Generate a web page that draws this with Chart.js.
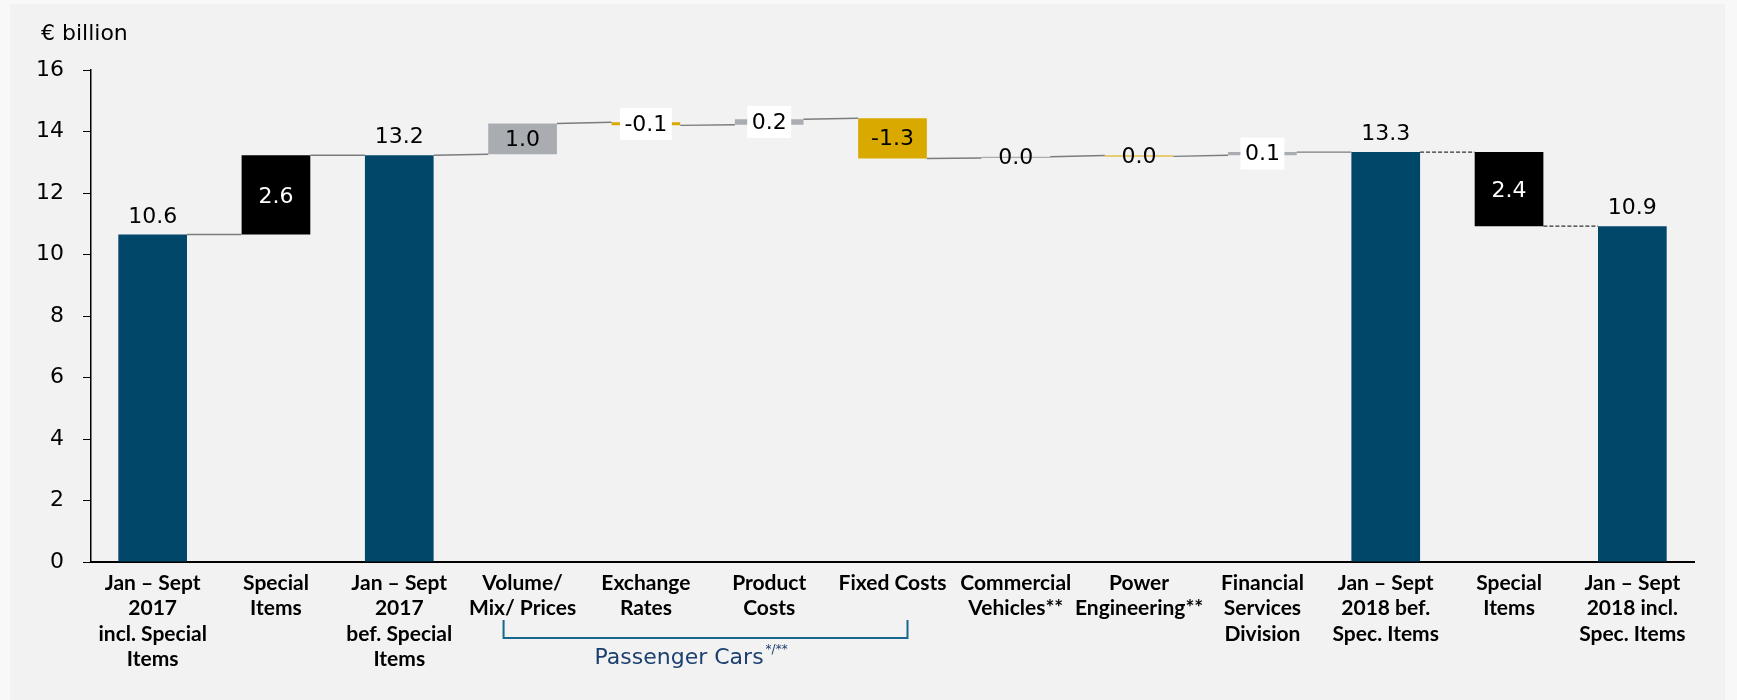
<!DOCTYPE html>
<html><head><meta charset="utf-8">
<script src="https://cdn.jsdelivr.net/npm/chart.js@4"></script>
<style>
html,body{margin:0;padding:0;background:#f8f8f8;width:1737px;height:700px;overflow:hidden}
#panel{position:absolute;left:10px;top:4px;width:1715px;height:696px;background:#f2f2f2}
#wrap{position:absolute;left:0;top:0;width:1737px;height:700px}
</style></head><body>
<div id="panel"></div>
<div id="wrap"><canvas id="c" width="1737" height="700"></canvas></div>
<script>
// ---- data ----
const categories = [
  ['Jan – Sept', '2017', 'incl. Special', 'Items'],
  ['Special', 'Items'],
  ['Jan – Sept', '2017', 'bef. Special', 'Items'],
  ['Volume/', 'Mix/ Prices'],
  ['Exchange', 'Rates'],
  ['Product', 'Costs'],
  ['Fixed Costs'],
  ['Commercial', 'Vehicles**'],
  ['Power', 'Engineering**'],
  ['Financial', 'Services', 'Division'],
  ['Jan – Sept', '2018 bef.', 'Spec. Items'],
  ['Special', 'Items'],
  ['Jan – Sept', '2018 incl.', 'Spec. Items']
];
const barKind = ['total', 'special', 'total', 'delta', 'delta', 'delta', 'delta', 'delta', 'delta', 'delta', 'total', 'special', 'total'];
const barStart = [0, 10.65, 0, 13.26, 14.30, 14.22, 14.43, 13.14, 13.22, 13.23, 0, 13.33, 0];
const barEnd   = [10.65, 13.23, 13.23, 14.26, 14.20, 14.40, 13.12, 13.18, 13.19, 13.33, 13.33, 10.92, 10.92];
const valueLabels = ['10.6', '2.6', '13.2', '1.0', '-0.1', '0.2', '-1.3', '0.0', '0.0', '0.1', '13.3', '2.4', '10.9'];
const dashedConnector = [false, false, false, false, false, false, false, false, false, false, true, true];
const yTickValues = [0, 2, 4, 6, 8, 10, 12, 14, 16];
const unitLabel = '€ billion';
const groupLabel = 'Passenger Cars';
const groupSup = '*/**';
const groupFirst = 3, groupLast = 6;

// ---- styles ----
const COL = {total: '#00476a', special: '#000000', up: '#a9adb2', down: '#d9a900'};
function barColor(i) {
  if (barKind[i] === 'total') return COL.total;
  if (barKind[i] === 'special') return COL.special;
  return barEnd[i] >= barStart[i] ? COL.up : COL.down;
}
const REG = '"DejaVu Sans", sans-serif';

const decor = {
  id: 'decor',
  afterDatasetsDraw(chart) {
    const ctx = chart.ctx;
    const ys = chart.scales.y, xs = chart.scales.x;
    const bars = chart.getDatasetMeta(0).data;
    ctx.save();
    // connectors
    for (let i = 0; i < bars.length - 1; i++) {
      const a = bars[i], b = bars[i + 1];
      const fromV = barEnd[i];
      const toV = barKind[i + 1] === 'total' ? barEnd[i + 1] : barStart[i + 1];
      ctx.beginPath();
      if (dashedConnector[i]) { ctx.setLineDash([4, 2]); ctx.strokeStyle = '#333'; ctx.lineWidth = 1.2; }
      else { ctx.setLineDash([]); ctx.strokeStyle = '#7a7c7e'; ctx.lineWidth = 1.4; }
      ctx.moveTo(a.x + a.width / 2, ys.getPixelForValue(fromV));
      ctx.lineTo(b.x - b.width / 2, ys.getPixelForValue(toV));
      ctx.stroke();
    }
    ctx.setLineDash([]);
    // value labels
    ctx.font = '22px ' + REG;
    ctx.textAlign = 'center';
    for (let i = 0; i < bars.length; i++) {
      const bar = bars[i];
      const top = Math.min(bar.y, bar.base), bot = Math.max(bar.y, bar.base);
      const mid = (top + bot) / 2;
      const txt = valueLabels[i];
      if (barKind[i] === 'total') {
        ctx.textBaseline = 'alphabetic';
        ctx.fillStyle = '#000';
        ctx.fillText(txt, bar.x, top - 12);
      } else if (barKind[i] === 'special') {
        ctx.textBaseline = 'middle';
        ctx.fillStyle = '#fff';
        ctx.fillText(txt, bar.x, mid + 2);
      } else {
        ctx.textBaseline = 'middle';
        const h = bot - top;
        if (h < 20 && Math.abs(barEnd[i] - barStart[i]) >= 0.05) {
          const w = ctx.measureText(txt).width + 9;
          ctx.fillStyle = '#fff';
          ctx.fillRect(bar.x - w / 2, mid - 16, w, 32);
        }
        ctx.fillStyle = '#000';
        ctx.fillText(txt, bar.x, mid + 1);
      }
    }
    // unit label
    ctx.textAlign = 'left';
    ctx.textBaseline = 'alphabetic';
    ctx.fillStyle = '#000';
    ctx.fillText(unitLabel, chart.chartArea.left - 50, 40);
    // passenger cars bracket
    const base = chart.chartArea.bottom;
    const xl = xs.getPixelForValue(groupFirst) - 19;
    const xr = xs.getPixelForValue(groupLast) + 15;
    ctx.strokeStyle = '#17688c';
    ctx.lineWidth = 2;
    ctx.beginPath();
    ctx.moveTo(xl, base + 58);
    ctx.lineTo(xl, base + 76);
    ctx.lineTo(xr, base + 76);
    ctx.lineTo(xr, base + 58);
    ctx.stroke();
    ctx.fillStyle = '#1b3f6e';
    ctx.font = '22px ' + REG;
    const tx = (xl + xr) / 2 - 111;
    ctx.fillText(groupLabel, tx, base + 102);
    const tw = ctx.measureText(groupLabel).width;
    ctx.font = '12px ' + REG;
    ctx.fillText(groupSup, tx + tw + 2, base + 91);
    ctx.restore();
  }
};

new Chart(document.getElementById('c'), {
  type: 'bar',
  data: {
    labels: categories,
    datasets: [{
      data: barStart.map((s, i) => [s, barEnd[i]]),
      backgroundColor: barStart.map((s, i) => barColor(i)),
      borderWidth: 0,
      borderSkipped: false,
      barPercentage: 0.557,
      categoryPercentage: 1
    }]
  },
  options: {
    responsive: false,
    animation: false,
    devicePixelRatio: 1,
    layout: {padding: {top: 70, right: 43, bottom: 0, left: 0}},
    plugins: {legend: {display: false}, tooltip: {enabled: false}},
    scales: {
      x: {
        offset: true,
        grid: {display: false, drawTicks: false},
        border: {display: true, color: '#000', width: 2},
        ticks: {
          autoSkip: false, maxRotation: 0, minRotation: 0, padding: 8, color: '#000',
          font: {family: 'Lato, sans-serif', weight: 'bold', size: 21, lineHeight: 1.214}
        },
        afterFit(s) { s.height = 138; }
      },
      y: {
        min: 0, max: 16,
        afterBuildTicks(s) { s.ticks = yTickValues.map(v => ({value: v})); },
        grid: {drawOnChartArea: false, drawTicks: true, tickLength: 8, color: '#000', lineWidth: 1},
        border: {display: true, color: '#000', width: 1.5},
        ticks: {padding: 19, color: '#000', font: {family: REG, size: 22}},
        afterFit(s) { s.width = 91; }
      }
    }
  },
  plugins: [decor]
});
</script>
</body></html>
